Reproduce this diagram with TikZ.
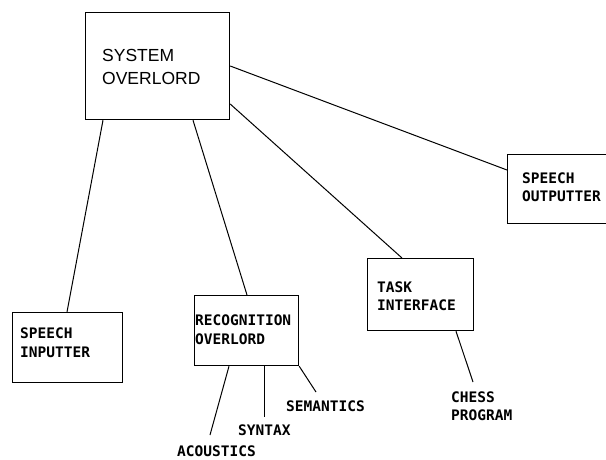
\documentclass[tikz,border=0pt]{standalone}
\usepackage{fontspec}
\setmainfont{Liberation Sans}
\newfontfamily\dotfont{DejaVu Sans Mono}
\begin{document}
\begin{tikzpicture}[x=1pt,y=-1pt,
  box/.style={draw, line width=1.2pt, inner sep=0pt, anchor=north west},
  lbl/.style={anchor=west, align=left, inner sep=0pt, font=\dotfont\bfseries\fontsize{14.5}{19}\selectfont},
  word/.style={anchor=base west, inner sep=0pt, font=\dotfont\bfseries\fontsize{14.5}{19}\selectfont},
  wire/.style={line width=1pt}]
\useasboundingbox (0,0) rectangle (606,459);
% boxes
\node[box, minimum width=144pt, minimum height=107pt] (sys) at (85,12) {};
\node[box, minimum width=110pt, minimum height=70pt] (inp) at (12,312) {};
\node[box, minimum width=104pt, minimum height=70pt] (rec) at (194,295) {};
\node[box, minimum width=106pt, minimum height=72pt] (task) at (367,258) {};
\node[box, minimum width=105pt, minimum height=69pt] (out) at (507,154) {};
% texts
\node[anchor=west, align=left, inner sep=0pt, font=\fontsize{17.5}{23}\selectfont] (systxt) at (102,66.5) {SYSTEM\\OVERLORD};
\node[lbl] (inptxt) at (20,343) {SPEECH\\INPUTTER};
\node[lbl] (rectxt) at (195,330) {RECOGNITION\\OVERLORD};
\node[lbl, font=\dotfont\bfseries\fontsize{14.5}{18}\selectfont] (tasktxt) at (377,296) {TASK\\INTERFACE};
\node[lbl, font=\dotfont\bfseries\fontsize{14.5}{18}\selectfont] (outtxt) at (522,187) {SPEECH\\OUTPUTTER};
\node[lbl, font=\dotfont\bfseries\fontsize{14.5}{18}\selectfont] (chess) at (451,406) {CHESS\\PROGRAM};
\node[word] (sem) at (286,411) {SEMANTICS};
\node[word] (syn) at (238,435) {SYNTAX};
\node[word] (aco) at (177,456.5) {ACOUSTICS};
% free ends
\coordinate (acoend) at (210,435);
\coordinate (synend) at (264.5,417);
\coordinate (semend) at (316,392);
\coordinate (chessend) at (473,382);
% connectors
\draw[wire] ([xshift=18pt]sys.south west) -- ([xshift=55pt]inp.north west);
\draw[wire] ([xshift=108pt]sys.south west) -- ([xshift=53pt]rec.north west);
\draw[wire] ([yshift=-92pt]sys.north east) -- ([xshift=35pt]task.north west);
\draw[wire] ([yshift=-54pt]sys.north east) -- ([yshift=-16pt]out.north west);
\draw[wire] ([xshift=35pt]rec.south west) -- (acoend);
\draw[wire] ([xshift=70.5pt]rec.south west) -- (synend);
\draw[wire] (rec.south east) -- (semend);
\draw[wire] ([xshift=89pt]task.south west) -- (chessend);
\end{tikzpicture}
\end{document}
